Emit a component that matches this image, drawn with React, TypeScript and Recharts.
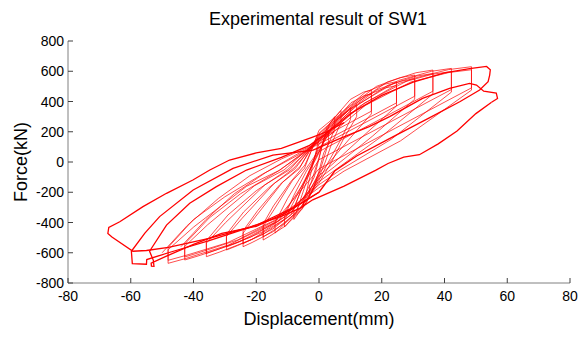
import { LineChart, Line, XAxis, YAxis } from 'recharts';

type Pt = [number, number];

const xTicks = [-80, -60, -40, -20, 0, 20, 40, 60, 80];
const yTicks = [-800, -600, -400, -200, 0, 200, 400, 600, 800];

// small cycles around the origin
const s1: Pt[] = [[0, -60], [-1.5, -154], [-3, -220], [-3, -160], [-1.5, -99], [0, 20], [1.5, 150], [3, 200], [3, 120], [1.5, 60], [0, -60]];
const s2: Pt[] = [[0, -80], [-2.5, -210], [-5, -300], [-5, -240], [-2.5, -135], [0, 30], [2.5, 225], [5, 300], [5, 220], [2.5, 90], [0, -80]];
const s3: Pt[] = [[0, -100], [-4, -266], [-8, -380], [-8, -310], [-6, -200], [-3, -60], [0, 60], [3.5, 255], [7, 340], [7, 260], [4, 120], [2, 0], [0, -100]];
const s4: Pt[] = [[0, -120], [-5.5, -300], [-11, -430], [-11, -360], [-8, -220], [-4, -60], [0, 70], [5, 270], [10, 360], [10, 280], [7, 150], [3, 0], [0, -120]];
const s5: Pt[] = [[0, -140], [-7, -329], [-14, -470], [-14, -400], [-10, -240], [-5, -70], [0, 80], [6, 285], [12, 380], [12, 300], [8, 160], [4, 0], [0, -140]];

// larger cycles, first pass at each amplitude
const c1: Pt[] = [[0, 152], [-5.3, -310], [-10.7, -423], [-15.7, -490], [-17.8, -516], [-17.8, -426], [-14.8, -330], [-8.5, -124], [-4.6, -41], [0, 210], [5, 295], [10, 414], [14.2, 462], [16.7, 476], [16.7, 336], [8.4, 244], [0, 152]];
const c2: Pt[] = [[0, 119], [-7.3, -336], [-14.5, -459], [-21.3, -532], [-24.2, -560], [-24.2, -470], [-20.1, -358], [-11.6, -134], [-6.3, -45], [0, 190], [7.4, 329], [14.8, 462], [21, 515], [24.7, 531], [24.7, 391], [12.4, 255], [0, 119]];
const c3: Pt[] = [[0, 100], [-8.9, -349], [-17.7, -477], [-26, -553], [-29.5, -582], [-29.5, -492], [-24.5, -372], [-14.2, -140], [-7.7, -47], [0, 170], [9.2, 357], [18.3, 500], [25.9, 558], [30.5, 575], [30.5, 435], [15.3, 267], [0, 100]];
const c4: Pt[] = [[0, 69], [-10.8, -376], [-21.5, -513], [-31.6, -595], [-35.9, -626], [-35.9, -536], [-29.8, -401], [-17.2, -150], [-9.3, -50], [0, 160], [10.9, 377], [21.8, 529], [30.9, 590], [36.3, 608], [36.3, 468], [18.2, 268], [0, 69]];
const c5: Pt[] = [[0, 15], [-12.8, -389], [-25.7, -531], [-37.7, -616], [-42.8, -648], [-42.8, -558], [-35.5, -415], [-20.5, -156], [-11.1, -52], [0, 150], [12.7, 384], [25.3, 539], [35.9, 600], [42.2, 619], [42.2, 479], [21.1, 247], [0, 15]];
const c6: Pt[] = [[0, -45], [-14.4, -402], [-28.9, -549], [-42.3, -637], [-48.1, -670], [-48.1, -580], [-39.9, -429], [-23.1, -161], [-12.5, -54], [0, 140], [14.6, 391], [29.2, 548], [41.3, 611], [48.6, 630], [48.6, 490], [24.3, 223], [0, -45]];

// repeated cycles at the same amplitudes
const c1b: Pt[] = [[0, -70], [-5.5, -295], [-10.9, -405], [-15.9, -470], [-17.8, -495], [-17.8, -410], [-14.5, -290], [-9, -130], [-4.5, -20], [0, 185], [5.2, 278], [10.2, 392], [14.4, 438], [16.7, 450], [16.7, 318], [10, 160], [3, -10], [0, -70]];
const c2b: Pt[] = [[0, -90], [-7.5, -325], [-14.7, -443], [-21.5, -513], [-24.2, -540], [-24.2, -455], [-19.5, -320], [-12.5, -150], [-6, -30], [0, 170], [7.6, 312], [15, 440], [21.2, 490], [24.7, 505], [24.7, 370], [14, 170], [4, -20], [0, -90]];
const c3b: Pt[] = [[0, -110], [-9.1, -337], [-17.9, -461], [-26.2, -534], [-29.5, -562], [-29.5, -478], [-24, -330], [-16, -170], [-8, -40], [0, 150], [9.4, 340], [18.5, 478], [26.1, 534], [30.5, 550], [30.5, 415], [17, 170], [5, -30], [0, -110]];
const c4b: Pt[] = [[0, -130], [-11, -363], [-21.7, -496], [-31.8, -575], [-35.9, -605], [-35.9, -520], [-29, -350], [-20, -190], [-10, -50], [0, 140], [11.1, 360], [22, 508], [31.1, 568], [36.3, 585], [36.3, 450], [20, 170], [6, -40], [0, -130]];
const c5b: Pt[] = [[0, -150], [-13, -377], [-25.9, -515], [-37.9, -597], [-42.8, -628], [-42.8, -542], [-35, -370], [-25, -210], [-13, -60], [0, 130], [12.9, 368], [25.5, 520], [36.1, 580], [42.2, 598], [42.2, 462], [23, 150], [7, -50], [0, -150]];
const c6b: Pt[] = [[0, -170], [-14.6, -390], [-29.1, -533], [-42.5, -618], [-48.1, -650], [-48.1, -565], [-40, -380], [-30, -230], [-18, -80], [0, 120], [14.8, 375], [29.4, 530], [41.5, 592], [48.6, 610], [48.6, 475], [26, 140], [8, -60], [0, -170]];

// reloading branches seen between the heavy lines on the left
const r1: Pt[] = [[-50, -600], [-42, -420], [-32, -240], [-22, -90], [-12, 20], [-2, 110], [5, 200]];
const r2: Pt[] = [[-44, -560], [-36, -380], [-27, -210], [-17, -70], [-8, 40], [0, 130]];

// last cycles, drawn heavier
const tA: Pt[] = [[0, -200], [-10, -330], [-20, -425], [-31, -472], [-40, -545], [-48.8, -624], [-53.5, -668], [-53.4, -688], [-52.6, -690], [-52.8, -650], [-54, -590], [-48.6, -417], [-41.2, -273], [-32.7, -163], [-23.1, -53], [-12, 30], [-3, 110], [3, 200], [10, 320], [20, 440], [30, 528], [40, 590], [48, 618], [53.4, 632], [54.6, 610], [54.4, 575], [53.9, 531], [51.2, 476], [45, 400], [35, 290], [22, 150], [12, 40], [5, -60], [0, -200]];
const tB: Pt[] = [[0, -200], [-8, -300], [-20, -418], [-35, -520], [-48, -600], [-54.9, -645], [-55, -676], [-59.5, -672], [-59.8, -590], [-55.5, -470], [-50.8, -361], [-40.1, -185], [-27.4, -42], [-14.7, 46], [-1.9, 79], [6, 150], [16, 234], [22.5, 300], [33, 421], [41.6, 487], [48, 520], [50.2, 509], [52.5, 468], [56.5, 456], [56.9, 420], [55, 395]];
const tC: Pt[] = [[55, 395], [50, 320], [44, 205], [38, 120], [32, 48], [27, 32], [22, -10], [18, -55], [8, -160], [-2, -250], [-6, -305], [-12, -360], [-22, -430], [-35, -505], [-48, -565], [-55, -585], [-59.3, -590], [-66, -496], [-67.3, -472], [-67, -432], [-63.5, -395], [-56.1, -295], [-48.6, -207], [-40.2, -119], [-34.8, -53], [-28.5, 13], [-20, 60], [-12, 90], [-2, 165], [2.4, 200], [8, 260]];

const thinLoops = [s1, s2, s3, s4, s5, c1, c2, c3, c4, c5, c6, c1b, c2b, c3b, c4b, c5b, c6b, r1, r2];
const thickLoops = [tA, tB, tC];

const toRows = (p: Pt[]) => p.map(([x, y]) => ({ x, y }));

const FONT = '"Liberation Sans", Arial, sans-serif';
const FRAME = '#808080';
const TICK = '#404040';
const RED = '#ff0000';

function BottomTick({ x, y, payload }: any) {
  return (
    <g>
      <line x1={x} x2={x} y1={y - 6} y2={y - 11} stroke={TICK} />
      <text x={x} y={y + 12} textAnchor="middle" fontSize={14} fontFamily={FONT} fill="#000">{payload.value}</text>
    </g>
  );
}

function TopTick({ x, y }: any) {
  return <line x1={x} x2={x} y1={y + 6} y2={y + 11} stroke={TICK} />;
}

function LeftTick({ x, y, payload }: any) {
  return (
    <g>
      <line x1={x + 4} x2={x + 9} y1={y} y2={y} stroke={TICK} />
      <text x={x} y={y + 5} textAnchor="end" fontSize={14} fontFamily={FONT} fill="#000">{payload.value}</text>
    </g>
  );
}

function RightTick({ x, y }: any) {
  return <line x1={x - 4} x2={x - 9} y1={y} y2={y} stroke={TICK} />;
}

export default function App() {
  return (
    <div style={{ position: 'absolute', left: 0, top: 0, width: 582, height: 338, background: '#fff' }}>
      <LineChart width={582} height={338} margin={{ top: 41, right: 12, bottom: 0, left: 0 }}>
        <XAxis dataKey="x" type="number" domain={[-80, 80]} ticks={xTicks} height={55}
          axisLine={{ stroke: FRAME }} tickLine={false} tickSize={0} tickMargin={6} tick={<BottomTick />} />
        <XAxis xAxisId="top" orientation="top" dataKey="x" type="number" domain={[-80, 80]} ticks={xTicks} height={0}
          axisLine={{ stroke: FRAME }} tickLine={false} tickSize={0} tickMargin={6} tick={<TopTick />} />
        <YAxis type="number" domain={[-800, 800]} ticks={yTicks} width={68}
          axisLine={{ stroke: FRAME }} tickLine={false} tickSize={0} tickMargin={4} tick={<LeftTick />} />
        <YAxis yAxisId="right" orientation="right" type="number" domain={[-800, 800]} ticks={yTicks} width={0}
          axisLine={{ stroke: FRAME }} tickLine={false} tickSize={0} tickMargin={4} tick={<RightTick />} />
        {thinLoops.map((loop, i) => (
          <Line key={`thin-${i}`} data={toRows(loop)} dataKey="y" type="linear" stroke={RED}
            strokeWidth={0.7} dot={false} isAnimationActive={false} />
        ))}
        {thickLoops.map((loop, i) => (
          <Line key={`thick-${i}`} data={toRows(loop)} dataKey="y" type="linear" stroke={RED}
            strokeWidth={1.3} dot={false} isAnimationActive={false} />
        ))}
        <text x={318} y={25} textAnchor="middle" fontSize={18} fontFamily={FONT} fill="#000">Experimental result of SW1</text>
        <text x={319} y={325} textAnchor="middle" fontSize={18} fontFamily={FONT} fill="#000">Displacement(mm)</text>
        <text transform="translate(27,162) rotate(-90)" textAnchor="middle" fontSize={18} fontFamily={FONT} fill="#000">Force(kN)</text>
      </LineChart>
    </div>
  );
}
